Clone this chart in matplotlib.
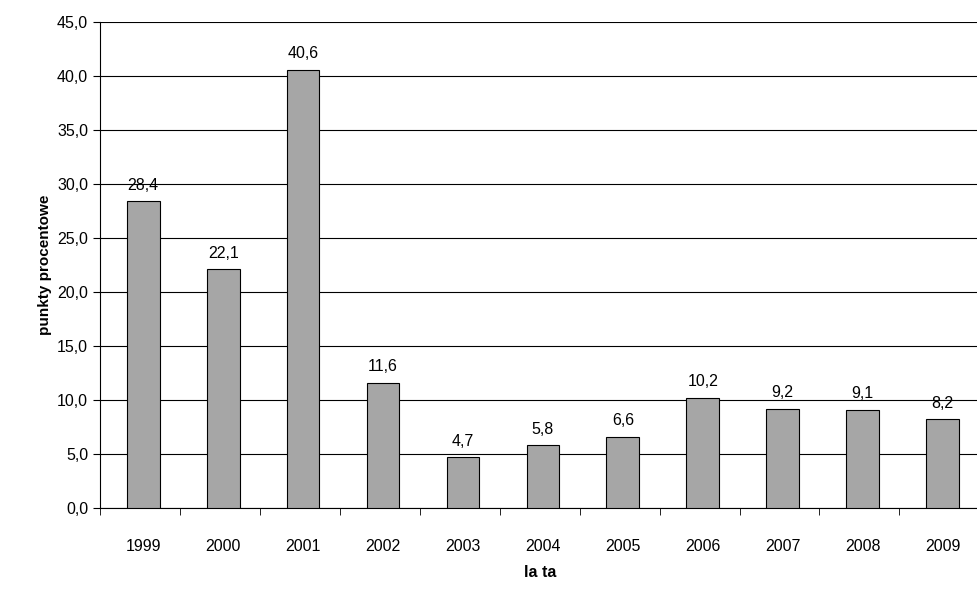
import matplotlib
matplotlib.use("Agg")
import matplotlib.pyplot as plt

years = ["1999","2000","2001","2002","2003","2004","2005","2006","2007","2008","2009"]
values = [28.4, 22.1, 40.6, 11.6, 4.7, 5.8, 6.6, 10.2, 9.2, 9.1, 8.2]
yticks = [0,5,10,15,20,25,30,35,40,45]

plt.rcParams['font.family'] = ['Liberation Sans', 'DejaVu Sans']
fig = plt.figure(figsize=(9.77,5.89), dpi=100)
ax = fig.add_axes([0.1024, 0.1375, 0.9, 0.825])
x = list(range(len(years)))
ax.bar(x, values, width=0.41, color='#A6A6A6', edgecolor='black', linewidth=0.8, zorder=3)
for xi, v in zip(x, values):
    ax.text(xi, v + 0.8, f"{v:.1f}".replace('.', ','), ha='center', va='bottom', fontsize=11.5)
ax.set_ylim(0, 45)
ax.set_xlim(-0.54, 10.46)
ax.set_yticks(yticks)
ax.set_yticklabels([f"{t:.1f}".replace('.', ',') for t in yticks], fontsize=11.5)
ax.yaxis.grid(True, color='black', linewidth=0.8, zorder=0)
ax.set_xticks(x)
ax.set_xticklabels(years, fontsize=11.5)
ax.tick_params(axis='x', length=0, pad=22)
ax.set_xticks([i - 0.54 for i in range(len(years)+1)], minor=True)
ax.tick_params(axis='x', which='minor', length=5, direction='out')
ax.tick_params(axis='y', length=5, direction='out')
for s in ['top', 'right']:
    ax.spines[s].set_visible(False)
ax.set_ylabel("punkty procentowe", fontsize=11, fontweight='bold')
ax.set_xlabel("la ta", fontsize=11.5, fontweight='bold', labelpad=8)
fig.savefig("out.png", dpi=100)
